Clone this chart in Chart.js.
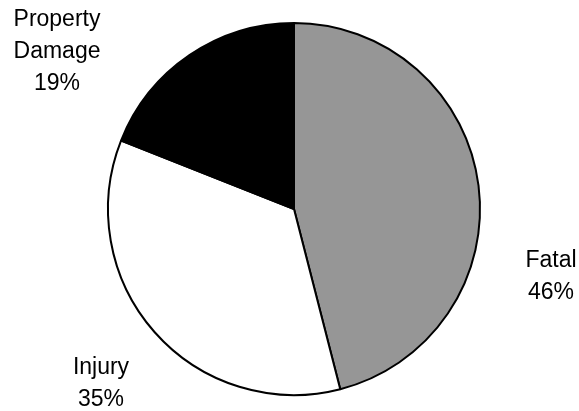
<!DOCTYPE html>
<html>
<head>
<meta charset="utf-8">
<script src="https://cdn.jsdelivr.net/npm/chart.js@4/dist/chart.umd.min.js"></script>
<style>
  html, body { margin: 0; padding: 0; background: #fff; }
  #chartdiv { display: block; }
</style>
</head>
<body>
<canvas id="chartdiv" width="579" height="411"></canvas>
<script>
// data
var categories = ['Fatal', 'Injury', 'Property Damage'];
var values = [46, 35, 19];
var sliceColors = ['#969696', '#ffffff', '#000000'];

// where each label block sits, relative to the pie centre
var labelOffsets = [[257, 66], [-193, 173], [-237, -159]];

// draws the outside labels (category + percent)
var outsideLabels = {
    id: 'outsideLabels',
    afterDraw: function (chart) {
        var ctx = chart.ctx;
        var meta = chart.getDatasetMeta(0);
        var total = values.reduce(function (a, b) { return a + b; }, 0);
        ctx.save();
        ctx.font = '23px "Liberation Sans", Arial, sans-serif';
        ctx.fillStyle = '#000';
        ctx.textAlign = 'center';
        ctx.textBaseline = 'alphabetic';
        meta.data.forEach(function (arc, i) {
            var lines = categories[i].split(' ');
            lines.push(Math.round(values[i] / total * 100) + '%');
            var cx = arc.x + labelOffsets[i][0];
            var cy = arc.y + labelOffsets[i][1];
            var lh = 32;
            lines.forEach(function (txt, j) {
                ctx.fillText(txt, cx, cy + (j - (lines.length - 1) / 2) * lh + 8);
            });
        });
        ctx.restore();
    }
};

var data = {
    labels: categories,
    datasets: [{
        data: values,
        backgroundColor: sliceColors,
        borderColor: '#000',
        borderWidth: 2
    }]
};

var myPieChart = new Chart(document.getElementById('chartdiv'), {
    type: 'pie',
    data: data,
    options: {
        responsive: false,
        animation: false,
        layout: { padding: { left: 107, right: 98, top: 22, bottom: 15 } },
        plugins: {
            legend: { display: false },
            tooltip: { enabled: false }
        }
    },
    plugins: [outsideLabels]
});
</script>
</body>
</html>
